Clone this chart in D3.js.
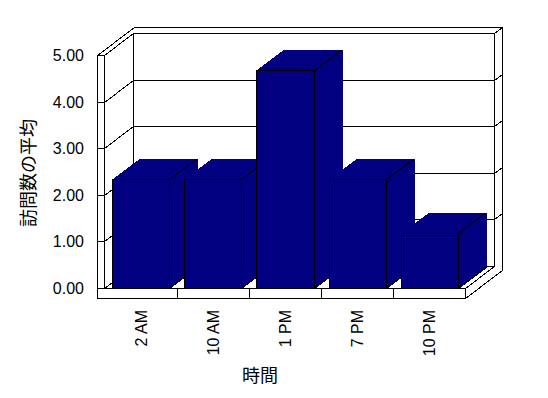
<!DOCTYPE html>
<html>
<head>
<meta charset="utf-8">
<script src="https://cdn.jsdelivr.net/npm/d3@7"></script>
<style>
  body { margin: 0; background: #fff; }
  svg { display: block; }
  text { font-family: "Liberation Sans", Arial, "Noto Sans CJK JP", sans-serif; fill: #000; }
</style>
</head>
<body>
<div class="wrapper"></div>
<script>
// chart data
var categories = ["2 AM", "10 AM", "1 PM", "7 PM", "10 PM"];
var values = [2.33, 2.33, 4.67, 2.33, 1.17];
var yTickValues = [0, 1, 2, 3, 4, 5];
var yTitle = "訪問数の平均";
var xTitle = "時間";

var width = 548, height = 398;
var barColor = "#000080";

// 3d frame geometry (front plane coords + a depth vector)
var frame = { outerLeft: 97, left: 104, right: 465, floorBottom: 298 };
var depth = { x: 29, y: 22 };
var backThick = 0.27;   // thickness of back wall, as fraction of depth
var barDepth = 0.97;

var svg = d3.select(".wrapper").append("svg")
  .attr("width", width)
  .attr("height", height)
  .attr("shape-rendering", "crispEdges");

var g = svg.append("g").attr("transform", "translate(0.5,0.5)");

var y = d3.scaleLinear().domain([0, 5]).rangeRound([288, 55]);
var x = d3.scaleBand().domain(categories).range([105, 465])
  .paddingInner(0.2083).paddingOuter(0.104);
var xCat = d3.scaleBand().domain(categories).range([105, 465]);

var yTop = y(5), yBase = y(0);

// project a front-plane point back by depth z
function P(px, py, z) {
  return [Math.round(px + z * depth.x), Math.round(py - z * depth.y)];
}

function poly(points, fill, stroke) {
  return g.append("polygon")
    .attr("points", points.map(function(p) { return p.join(","); }).join(" "))
    .attr("fill", fill)
    .attr("stroke", stroke || "none");
}

function line(a, b) {
  g.append("line")
    .attr("x1", a[0]).attr("y1", a[1])
    .attr("x2", b[0]).attr("y2", b[1])
    .attr("stroke", "#000");
}

// floor top
poly([P(frame.left, yBase, 0), P(frame.right, yBase, 0), P(frame.right, yBase, 1), P(frame.left, yBase, 1)], "#fff", "#000");

// back wall face
poly([P(frame.left, yTop, 1), P(frame.right, yTop, 1), P(frame.right, yBase, 1), P(frame.left, yBase, 1)], "#fff", "#000");

// left wall inner face
poly([P(frame.left, yTop, 0), P(frame.left, yTop, 1), P(frame.left, yBase, 1), P(frame.left, yBase, 0)], "#fff", "#000");

// top edges of walls
poly([P(frame.outerLeft, yTop, 0), P(frame.left, yTop, 0), P(frame.left, yTop, 1),
      P(frame.right, yTop, 1), P(frame.right, yTop, 1 + backThick), P(frame.outerLeft, yTop, 1 + backThick)], "#fff", "#000");

// right side of floor + back wall
poly([P(frame.right, yBase, 0), P(frame.right, frame.floorBottom, 0), P(frame.right, frame.floorBottom, 1 + backThick),
      P(frame.right, yTop, 1 + backThick), P(frame.right, yTop, 1), P(frame.right, yBase, 1)], "#fff", "#000");

// gridlines on walls
yTickValues.filter(function(v) { return v > 0 && v < 5; }).forEach(function(v) {
  line(P(frame.left, y(v), 0), P(frame.left, y(v), 1));
  line(P(frame.left, y(v), 1), P(frame.right, y(v), 1));
  line(P(frame.right, y(v), 1), P(frame.right, y(v), 1 + backThick));
});

// left wall front face and floor front face
poly([[frame.outerLeft, yTop], [frame.left, yTop], [frame.left, yBase], [frame.outerLeft, yBase]], "#fff", "#000");
poly([[frame.outerLeft, yBase], [frame.right, yBase], [frame.right, frame.floorBottom], [frame.outerLeft, frame.floorBottom]], "#fff", "#000");

// y ticks across wall face
yTickValues.forEach(function(v) {
  line([frame.outerLeft - 1, y(v)], [frame.left, y(v)]);
});

// category ticks on floor edge
categories.slice(1).forEach(function(c) {
  line([xCat(c), yBase], [xCat(c), frame.floorBottom]);
});

// bars
categories.forEach(function(c, i) {
  var x0 = Math.round(x(c)), x1 = Math.round(x(c) + x.bandwidth());
  var top = y(values[i]);
  poly([P(x1, top, 0), P(x1, top, barDepth), P(x1, yBase, barDepth), P(x1, yBase, 0)], barColor);
  poly([P(x0, top, 0), P(x1, top, 0), P(x1, top, barDepth), P(x0, top, barDepth)], barColor);
  g.append("rect")
    .attr("x", x0).attr("y", top)
    .attr("width", x1 - x0).attr("height", yBase - top)
    .attr("fill", barColor).attr("stroke", "#000");
  line(P(x1, top, 0), P(x1, top, barDepth));
  line(P(x1, yBase, 0), P(x1, yBase, barDepth));
});

// y tick labels
var fmt = d3.format(".2f");
svg.selectAll(".ytick")
  .data(yTickValues)
  .enter().append("text")
  .attr("class", "ytick")
  .attr("x", 84)
  .attr("y", function(d) { return y(d) + 0.5; })
  .attr("dy", "0.35em")
  .attr("text-anchor", "end")
  .style("font-size", "16px")
  .text(function(d) { return fmt(d); });

// category labels (rotated)
svg.selectAll(".xlabel")
  .data(categories)
  .enter().append("text")
  .attr("class", "xlabel")
  .attr("transform", function(d) { return "translate(" + (xCat(d) + xCat.bandwidth() / 2) + ",310) rotate(-90)"; })
  .attr("dy", "0.35em")
  .attr("text-anchor", "end")
  .style("font-size", "16px")
  .text(function(d) { return d; });

// axis titles
svg.append("text")
  .attr("transform", "translate(29,173) rotate(-90)")
  .attr("dy", "0.35em")
  .attr("text-anchor", "middle")
  .style("font-size", "18px")
  .text(yTitle);

svg.append("text")
  .attr("x", 260)
  .attr("y", 376)
  .attr("dy", "0.35em")
  .attr("text-anchor", "middle")
  .style("font-size", "18px")
  .text(xTitle);
</script>
</body>
</html>
